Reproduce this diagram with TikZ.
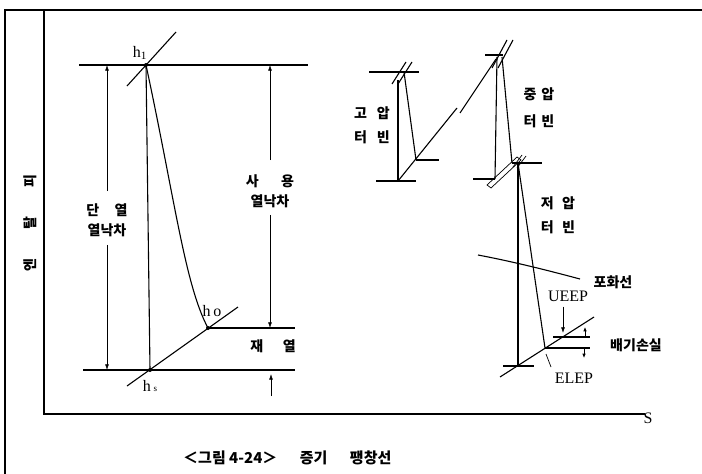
\documentclass[tikz,border=0pt]{standalone}
\usepackage{fontspec}
\setmainfont{Liberation Serif}
\newfontfamily\kr{Noto Sans CJK KR}
\usetikzlibrary{arrows.meta}

\begin{document}
\begin{tikzpicture}[
x=1pt, y=-1pt,
mainline/.style={line width=1.1pt},
thinline/.style={line width=0.7pt},
dimarr/.style={-{Latex[length=2mm,width=1.4mm]}, line width=0.7pt},
tinyarr/.style={-{Latex[length=1.5mm,width=1.2mm]}, line width=0.7pt},
kor/.style={font=\kr\bfseries\fontsize{14}{20}\selectfont, align=center, inner sep=0pt},
sym/.style={font=\fontsize{16}{18}\selectfont, inner sep=0pt}
]
\useasboundingbox (0,0) rectangle (702,474);
\draw[line width=1.5pt] (5,474) -- (5,10) -- (702,10);
\draw[line width=1.3pt] (44,10) -- (44,414) -- (645,414);
\node[sym] (s) at (648,418) {S};
\node[kor, rotate=90] (enthalpy) at (30,223) {엔\hspace{2.1em}탈\hspace{2.1em}피};

\coordinate (h1) at (146,65);
\coordinate (hs) at (150,370);
\coordinate (ho) at (208,328);
\draw[mainline] (79,65) -- (308,65);
\draw[mainline] (127,86) -- (176,32);
\draw[mainline] (h1) -- (hs);
\draw[mainline] (h1) .. controls (175,200) and (185,285) .. (ho);
\draw[mainline] (127,386) -- (238,307);
\draw[mainline] (ho) -- (295,328);
\draw[mainline] (83,370) -- (295,370);
\foreach \p in {h1,hs,ho} \fill (\p) circle (2pt);
\node[sym] (h1lbl) at (140,53) {h\textsubscript{1}};
\node[sym] (holbl) at (212,311) {h\,o};
\node[sym] (hslbl) at (150,386) {h\,{\small s}};

\node[kor] (dan) at (107,220) {단\hspace{1.1em}열\\열낙차};
\node[kor] (sayong) at (270,191) {사\hspace{1.6em}용\\열낙차};
\node[kor] (jae) at (273,346) {재\hspace{1.4em}열};
\draw[dimarr, shorten <=12pt] (dan.north) -- (dan.north |- h1);
\draw[dimarr, shorten <=8pt] (dan.south) -- (dan.south |- hs);
\draw[dimarr, shorten <=14pt] (sayong.north) -- (sayong.north |- h1);
\draw[dimarr, shorten <=7pt] (sayong.south) -- (sayong.south |- ho);
\draw[dimarr] (271,396) -- (271,374);

\draw[mainline] (369,72) -- (419,72);
\draw[mainline] (392,84) -- (406,62);
\draw[mainline] (398,84) -- (412,62);
\draw[mainline] (398,80) -- (398,181);
\draw[mainline] (404,72) -- (416,160);
\draw[mainline] (376,181) -- (416,181);
\draw[mainline] (416,160) -- (439,160);
\draw[mainline] (398,181) -- (457,108);
\draw[mainline] (460,113) -- (496,59);
\node[kor, font=\kr\bfseries\fontsize{14}{24}\selectfont] (hp) at (372,125) {고\hspace{0.7em}압\\터\hspace{0.7em}빈};

\draw[mainline] (485,55) -- (503,55);
\draw[mainline] (492,68) -- (507,40);
\draw[mainline] (498,68) -- (513,40);
\draw[mainline] (497,57) -- (495,179);
\draw[mainline] (502,57) -- (512,163);
\draw[mainline] (473,179) -- (495,179);
\draw[mainline] (512,163) -- (542,163);
\draw[thinline] (487,185) -- (517,157) -- (521,160) -- (491,188) -- cycle;
\draw[thinline] (513,167) -- (522,155);
\draw[thinline] (517,168) -- (526,156);
\node[kor, font=\kr\bfseries\fontsize{14}{27}\selectfont] (ip) at (539,108) {중\hspace{0.35em}압\\터\hspace{0.35em}빈};

\coordinate (lpin) at (518,163);
\coordinate (lpout) at (518,366);
\coordinate (el) at (545,348);
\coordinate (ue) at (563,337);
\draw[mainline] (lpin) -- (lpout);
\draw[mainline] (lpin) -- (el);
\draw[mainline] (503,366) -- (534,366);
\draw[mainline] (500,377) -- (594,317);
\draw[mainline] (el) -- (590,348);
\draw[mainline] (553,337) -- (590,337);
\draw[mainline] (478,255) .. controls (515,262) and (550,271) .. (580,279);
\node[kor, font=\kr\bfseries\fontsize{14}{24}\selectfont] (lp) at (558,215) {저\hspace{0.6em}압\\터\hspace{0.6em}빈};
\node[kor] (sat) at (613,282) {포화선};
\node[kor] (loss) at (636,345) {배기손실};
\node[sym] (ueep) at (568,296) {UEEP};
\node[sym] (elep) at (574,378) {ELEP};
\draw[dimarr, shorten <=5pt, shorten >=4pt] (ue |- ueep.south) -- (ue);
\draw[thinline] (551,367) -- (546,354);
\draw[tinyarr] (585,336) -- (585,327);
\draw[tinyarr] (584,349) -- (584,358);

\node[kor, font=\kr\bfseries\fontsize{15}{18}\selectfont, anchor=west] (caption) at (183,458) {＜그림 4-24＞\hspace{1.5em}증기\hspace{1.5em}팽창선};
\end{tikzpicture}
\end{document}
